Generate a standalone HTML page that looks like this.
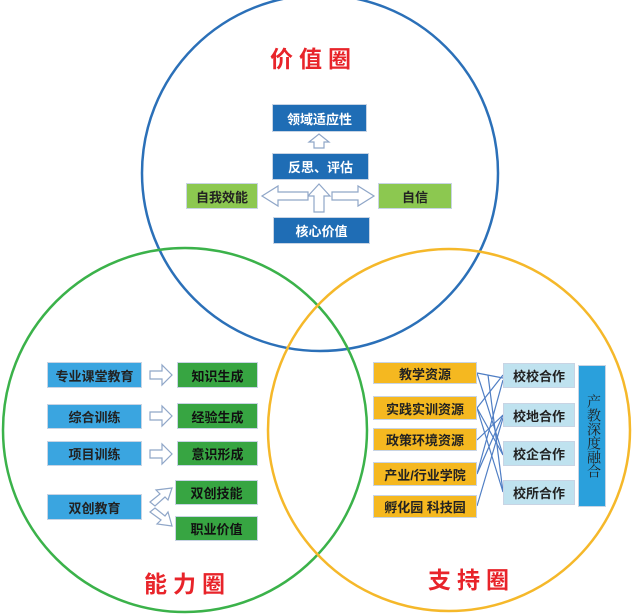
<!DOCTYPE html>
<html><head><meta charset="utf-8"><style>
body{margin:0;background:#fff;width:636px;height:616px;position:relative;overflow:hidden;font-family:"Liberation Sans","Noto Sans CJK SC",sans-serif}
.b{position:absolute;display:flex;align-items:center;justify-content:center;font-size:13px;font-weight:bold;box-sizing:border-box;border:1px solid #c8d4e4}
.db{background:#1f6db5;color:#fff}
.lg{background:#8cc850;color:#222}
.sb{background:#3aa5e0;color:#222}
.gg{background:#37a542;color:#111}
.yy{background:#f5b820;color:#222}
.lb{background:#bfe2ef;color:#222}
.t{position:absolute;color:#e8242a;font-size:23px;font-weight:bold;letter-spacing:6px}
</style></head><body>
<svg width="636" height="616" style="position:absolute;left:0;top:0">
<circle cx="320" cy="173" r="178" fill="none" stroke="#2b70b8" stroke-width="2.5"/>
<circle cx="185" cy="430" r="182" fill="none" stroke="#3bb24a" stroke-width="2.5"/>
<circle cx="449" cy="430" r="181" fill="none" stroke="#f5b82a" stroke-width="2.5"/>
<g fill="#fff" stroke="#8fa6c8" stroke-width="1.2">
<polygon points="314,148 314,142 309,142 319,134 329,142 324,142 324,148"/>
<polygon points="314,212 314,196 308,196 319,184 330,196 324,196 324,212"/>
<polygon points="308,200 278,200 278,206 262,196 278,186 278,192 308,192"/>
<polygon points="332,192 358,192 358,186 374,196 358,206 358,200 332,200"/>
<polygon points="150,371 162,371 162,365 172,375 162,385 162,379 150,379"/>
<polygon points="150,412 162,412 162,406 172,416 162,426 162,420 150,420"/>
<polygon points="150,450 162,450 162,444 172,454 162,464 162,458 150,458"/>
<polygon points="150,502 160,494 156,490 172,488 168,500 165,497 155,506"/>
<polygon points="150,512 155,508 165,516 168,512 172,526 157,524 161,520"/>
</g>
<g stroke="#4f7ec4" stroke-width="1.2" fill="none">
<line x1="477" y1="373" x2="503" y2="378"/>
<line x1="477" y1="373" x2="503" y2="455"/>
<line x1="477" y1="408" x2="503" y2="375"/>
<line x1="477" y1="408" x2="503" y2="455"/>
<line x1="477" y1="408" x2="503" y2="492"/>
<line x1="477" y1="440" x2="503" y2="415"/>
<line x1="477" y1="474" x2="503" y2="415"/>
<line x1="477" y1="474" x2="503" y2="380"/>
<line x1="477" y1="506" x2="503" y2="418"/>
<line x1="488" y1="375" x2="503" y2="492"/>
</g>
</svg>
<div class="t" style="left:270px;top:40px">价值圈</div>
<div class="t" style="left:144px;top:565px">能力圈</div>
<div class="t" style="left:428px;top:561px">支持圈</div>

<div class="b db" style="left:272px;top:104px;width:95px;height:28px">领域适应性</div>
<div class="b db" style="left:272px;top:153px;width:97px;height:27px">反思、评估</div>
<div class="b lg" style="left:186px;top:183px;width:72px;height:26px">自我效能</div>
<div class="b lg" style="left:378px;top:183px;width:74px;height:26px">自信</div>
<div class="b db" style="left:273px;top:217px;width:97px;height:27px">核心价值</div>

<div class="b sb" style="left:47px;top:362px;width:95px;height:26px">专业课堂教育</div>
<div class="b gg" style="left:177px;top:362px;width:81px;height:26px">知识生成</div>
<div class="b sb" style="left:47px;top:404px;width:95px;height:25px">综合训练</div>
<div class="b gg" style="left:177px;top:403px;width:81px;height:26px">经验生成</div>
<div class="b sb" style="left:47px;top:441px;width:95px;height:25px">项目训练</div>
<div class="b gg" style="left:177px;top:441px;width:81px;height:25px">意识形成</div>
<div class="b sb" style="left:47px;top:494px;width:95px;height:26px">双创教育</div>
<div class="b gg" style="left:175px;top:480px;width:83px;height:25px">双创技能</div>
<div class="b gg" style="left:175px;top:516px;width:83px;height:25px">职业价值</div>

<div class="b yy" style="left:373px;top:362px;width:104px;height:22px">教学资源</div>
<div class="b yy" style="left:373px;top:396px;width:104px;height:24px">实践实训资源</div>
<div class="b yy" style="left:373px;top:428px;width:104px;height:23px">政策环境资源</div>
<div class="b yy" style="left:373px;top:462px;width:104px;height:24px">产业/行业学院</div>
<div class="b yy" style="left:373px;top:495px;width:104px;height:23px">孵化园&nbsp;科技园</div>
<div class="b lb" style="left:503px;top:363px;width:72px;height:25px">校校合作</div>
<div class="b lb" style="left:503px;top:403px;width:72px;height:24px">校地合作</div>
<div class="b lb" style="left:503px;top:441px;width:72px;height:25px">校企合作</div>
<div class="b lb" style="left:503px;top:480px;width:72px;height:25px">校所合作</div>
<div class="b" style="left:578px;top:365px;width:28px;height:142px;background:#2aa0dc;color:#222;writing-mode:vertical-rl;font-weight:normal;font-family:'Liberation Serif','Noto Serif CJK SC',serif;font-size:14px">产教深度融合</div>
</body></html>
